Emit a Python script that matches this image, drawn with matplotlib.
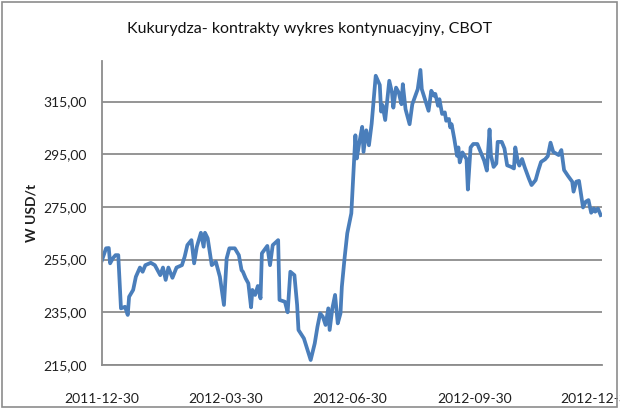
import numpy as np
import pandas as pd
import matplotlib
matplotlib.use("Agg")
import matplotlib.pyplot as plt
from matplotlib.patches import Rectangle

# dni od 2011-12-30 i cena (USD/t)
dni = [0, 3, 5, 6, 8, 10, 12, 14, 17, 19, 20, 23, 25, 28, 30, 32, 36, 39, 43, 45,
       47, 49, 52, 55, 59, 61, 63, 66, 68, 70, 73, 75, 76, 78, 81, 84, 87, 90, 92, 94,
       98, 101, 103, 104, 106, 108, 110, 111, 113, 115, 117, 118, 122, 124, 126, 130, 131, 135, 137, 139,
       142, 144, 145, 149, 154, 157, 159, 161, 163, 165, 167, 168, 170, 172, 174, 176, 177, 179, 181, 184,
       186, 187, 188, 190, 192, 193, 195, 197, 199, 202, 205, 206, 207, 209, 212, 214, 215, 217, 219, 221,
       222, 224, 227, 229, 233, 235, 236, 239, 241, 243, 245, 246, 248, 249, 251, 253, 254, 256, 257, 258,
       260, 262, 263, 264, 266, 269, 270, 272, 274, 277, 280, 282, 284, 286, 287, 289, 291, 292, 295, 297,
       299, 302, 304, 305, 307, 308, 310, 312, 315, 317, 320, 322, 324, 327, 329, 331, 333, 337, 339, 341,
       344, 347, 348, 350, 352, 355, 357, 359, 361, 363, 364, 366, 368]
cena = [254.8, 259.3, 259.4, 253.6, 255.5, 256.7, 256.7, 236.5, 237.1, 234.0, 240.9, 243.5, 248.5, 252.0, 250.4, 252.9, 253.8, 252.9, 249.1, 252.0,
        247.3, 252.0, 248.1, 252.0, 252.9, 256.1, 260.5, 262.4, 253.6, 259.9, 265.2, 259.9, 265.2, 263.1, 252.9, 254.2, 248.5, 237.8, 255.5, 259.3,
        259.3, 256.7, 251.0, 250.4, 247.9, 246.0, 236.9, 243.5, 241.6, 245.0, 240.3, 257.4, 260.2, 252.9, 260.5, 262.4, 239.7, 239.0, 235.0, 250.4,
        249.1, 237.8, 228.3, 225.1, 216.9, 223.2, 229.5, 234.6, 233.3, 230.2, 236.5, 228.3, 236.5, 241.6, 230.8, 234.6, 244.7, 255.5, 265.0, 272.6,
        292.2, 302.2, 293.4, 299.7, 305.4, 295.9, 304.1, 298.4, 306.6, 324.8, 321.3, 311.2, 313.7, 308.0, 322.9, 318.4, 312.7, 320.3, 318.4, 314.0,
        321.6, 312.1, 306.4, 314.0, 319.7, 327.0, 319.7, 314.7, 311.5, 319.1, 317.2, 317.9, 313.4, 315.9, 310.3, 310.9, 307.7, 308.4, 305.2, 306.4,
        300.8, 294.4, 297.6, 291.9, 295.7, 293.2, 281.6, 297.6, 298.9, 298.9, 295.1, 292.6, 288.8, 304.4, 294.6, 290.2, 291.5, 299.7, 299.7, 297.2,
        290.8, 290.2, 289.6, 297.6, 291.9, 290.7, 293.2, 290.0, 285.8, 283.3, 285.2, 288.9, 292.1, 293.1, 294.3, 299.4, 295.9, 294.7, 296.6, 289.0,
        286.7, 284.6, 280.8, 284.6, 284.9, 274.8, 277.0, 277.6, 272.8, 274.4, 273.2, 274.4, 271.9]

start = pd.Timestamp("2011-12-30")
daty = start + pd.to_timedelta(dni, unit="D")

tick_labels = ["2011-12-30", "2012-03-30", "2012-06-30", "2012-09-30", "2012-12-30"]
y_ticks = [215, 235, 255, 275, 295, 315]

plt.rcParams['font.family'] = ['Lato', 'DejaVu Sans']

fig = plt.figure(figsize=(6.2, 4.13), dpi=100)
ax = fig.add_axes([0.1645, 0.1162, 0.8065, 0.7361])

ax.plot(daty, cena, color="#4a7ebb", lw=2.7, solid_joinstyle="round")

ax.set_ylim(215, 330.4)
ax.set_xlim(start, start + pd.Timedelta(days=369))
ax.set_yticks(y_ticks)
ax.set_yticklabels([f"{v:.2f}".replace(".", ",") for v in y_ticks])
ax.set_xticks(pd.to_datetime(tick_labels))
ax.set_xticklabels(tick_labels)

ax.grid(axis="y", color="#8c8c8c", lw=1.3)
ax.set_axisbelow(True)
for s in ["top", "right"]:
    ax.spines[s].set_visible(False)
ax.spines["left"].set_color("#8c8c8c")
ax.spines["bottom"].set_color("#8c8c8c")
ax.spines["left"].set_linewidth(1.3)
ax.spines["bottom"].set_linewidth(1.3)
ax.tick_params(axis="y", length=0, pad=11, labelsize=10, labelcolor="#1f1f1f")
ax.tick_params(axis="x", length=0, pad=20, labelsize=10, labelcolor="#1f1f1f")
for lab in ax.get_xticklabels():
    lab.set_clip_on(False)

ax.set_ylabel("W USD/t", fontsize=10, fontweight="bold", color="#1f1f1f", labelpad=4)
fig.text(0.5, 0.93, "Kukurydza- kontrakty wykres kontynuacyjny, CBOT",
         ha="center", va="center", fontsize=11.5, color="#111111")

# ramka wykresu
fig.patches.append(Rectangle((2 / 620, 6 / 413), 615 / 620, 405 / 413,
                             transform=fig.transFigure, fill=False,
                             edgecolor="#8c8c8c", lw=1.2))

fig.savefig("out.png", dpi=100)
